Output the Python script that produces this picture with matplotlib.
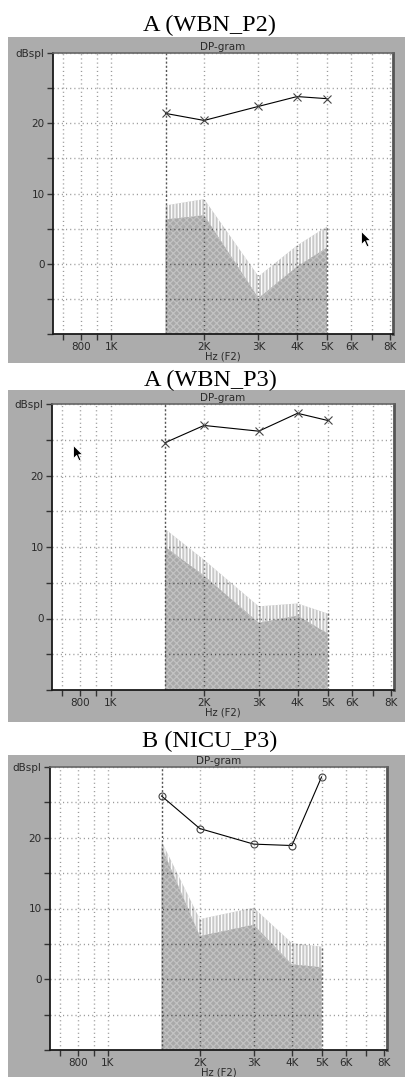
import numpy as np
import matplotlib
matplotlib.use("Agg")
import matplotlib.pyplot as plt
from matplotlib.path import Path
from matplotlib.ticker import NullLocator

# DP-gram data (F2 frequency in Hz, levels in dB SPL)
freqs = [1500, 2000, 3000, 4000, 5000]

wbn_p2_dp = [21.4, 20.4, 22.4, 23.8, 23.5]
wbn_p2_nf2sd = [8.3, 9.2, -1.8, 2.6, 5.3]
wbn_p2_nf = [6.3, 6.9, -4.9, -0.4, 2.3]

wbn_p3_dp = [24.6, 27.0, 26.2, 28.7, 27.7]
wbn_p3_nf2sd = [12.5, 8.2, 1.7, 2.1, 0.7]
wbn_p3_nf = [10.0, 6.0, -0.6, 0.4, -2.1]

nicu_p3_dp = [25.9, 21.3, 19.1, 18.9, 28.6]
nicu_p3_nf2sd = [19.5, 8.5, 10.1, 5.1, 4.6]
nicu_p3_nf = [18.7, 6.1, 7.7, 2.1, 1.7]

xtick_freqs = [700, 800, 900, 1000, 2000, 3000, 4000, 5000, 6000, 7000, 8000]
xtick_labels = ['', '800', '', '1K', '2K', '3K', '4K', '5K', '6K', '', '8K']
ytick_vals = [-10, -5, 0, 5, 10, 15, 20, 25, 30]
ytick_labels = ['', '', '0', '', '10', '', '20', '', 'dBspl']

# mouse pointer left on the screenshot (freq, dB)
cursor_p2 = (6450, 4.7)
cursor_p3 = (755, 24.3)

W, H = 406, 1077
fig = plt.figure(figsize=(W / 100, H / 100), dpi=100)
fig.patch.set_facecolor('white')
plt.rcParams['hatch.linewidth'] = 0.9

GRAY = '#acacac'
TXT = '#2a2a2a'

cursor_path = Path([(0, 0), (0, -15), (3.6, -11.4), (6.3, -17.5), (8.6, -16.5),
                    (5.9, -10.5), (10.6, -10.5), (0, 0)],
                   [Path.MOVETO] + [Path.LINETO] * 6 + [Path.CLOSEPOLY])


def box(x0, y0, x1, y1):
    return [x0 / W, 1 - y1 / H, (x1 - x0) / W, (y1 - y0) / H]


def panel(title, title_y, gray, plot, dp, nf2sd, nf, marker, cursor=None):
    g = box(*gray)
    fig.add_artist(plt.Rectangle((g[0], g[1]), g[2], g[3], transform=fig.transFigure,
                                 facecolor=GRAY, edgecolor='none', zorder=0))
    fig.text(210 / W, 1 - title_y / H, title, family='Liberation Serif', fontsize=17.5,
             ha='center', va='baseline', color='black')

    ax = fig.add_axes(box(*plot))
    ax.set_facecolor('white')
    ax.set_xscale('log')
    ax.set_xlim(648, 8180)
    ax.set_ylim(-10, 30)

    # noise floor + 2SD band (vertical stripes) and noise floor (dark)
    band = ax.fill_between(freqs, nf, nf2sd, facecolor='#c8c8c8', edgecolor='white',
                           hatch='|||||', linewidth=0, zorder=1)
    floor = ax.fill_between(freqs, -10, nf, facecolor='#a9a9a9', edgecolor='#c2c2c2',
                            hatch='xxxxx', linewidth=0, zorder=1.1)

    # dotted grid, darker where it crosses the noise floor
    dots = (0, (0.8, 2.2))
    for clip, col in [(None, '#9a9a9a'), (band, '#7a7a7a'), (floor, '#555555')]:
        lines = []
        for f in xtick_freqs:
            lines.append(ax.axvline(f, color=col, lw=1, ls=dots, zorder=2))
        for v in ytick_vals[1:]:
            lines.append(ax.axhline(v, color=col, lw=1, ls=dots, zorder=2))
        if clip is not None:
            for ln in lines:
                ln.set_clip_path(clip.get_paths()[0], ax.transData)
    ax.axvline(freqs[0], color='#555555', lw=1, ls=(0, (1.5, 1.5)), zorder=2.5)
    ax.plot([freqs[-1], freqs[-1]], [-10, nf2sd[-1]], color='#666666', lw=1,
            ls=(0, (1.5, 1.5)), zorder=2.5)

    if marker == 'x':
        ax.plot(freqs, dp, color='black', lw=0.8, marker='x', ms=6, mec='#444444',
                mew=0.8, zorder=3)
    else:
        ax.plot(freqs, dp, color='black', lw=0.8, marker='o', ms=5, mec='#444444',
                mfc='none', mew=0.8, zorder=3)

    if cursor is not None:
        ax.plot([cursor[0]], [cursor[1]], marker=cursor_path, ms=22, color='black',
                mec='white', mew=0.6, zorder=4, clip_on=False)

    ax.set_xticks(xtick_freqs)
    ax.set_xticklabels(xtick_labels)
    ax.xaxis.set_minor_locator(NullLocator())
    ax.set_yticks(ytick_vals)
    ax.set_yticklabels(ytick_labels)
    ax.tick_params(direction='out', length=4, width=1, color='#333333', labelsize=7.5,
                   labelcolor=TXT, pad=2)
    ax.tick_params(axis='x', pad=1.5)
    for s in ['left', 'bottom']:
        ax.spines[s].set_color('#1a1a1a')
        ax.spines[s].set_linewidth(1.3)
    ax.spines['top'].set_color('#666666')
    ax.spines['top'].set_linewidth(1.2)
    ax.spines['right'].set_color('#555555')
    ax.spines['right'].set_linewidth(2)
    ax.set_title('DP-gram', fontsize=7.5, color=TXT, pad=2)
    ax.set_xlabel('Hz (F2)', fontsize=7.2, color=TXT, labelpad=0)
    return ax


panel('A (WBN_P2)', 31, (8, 37, 406, 363), (53, 53, 393, 334),
      wbn_p2_dp, wbn_p2_nf2sd, wbn_p2_nf, 'x', cursor_p2)
panel('A (WBN_P3)', 386, (8, 390, 406, 722), (52, 404, 394, 690),
      wbn_p3_dp, wbn_p3_nf2sd, wbn_p3_nf, 'x', cursor_p3)
panel('B (NICU_P3)', 747, (8, 755, 406, 1077), (50, 767, 387, 1050),
      nicu_p3_dp, nicu_p3_nf2sd, nicu_p3_nf, 'o')

fig.savefig('out.png', dpi=100)
